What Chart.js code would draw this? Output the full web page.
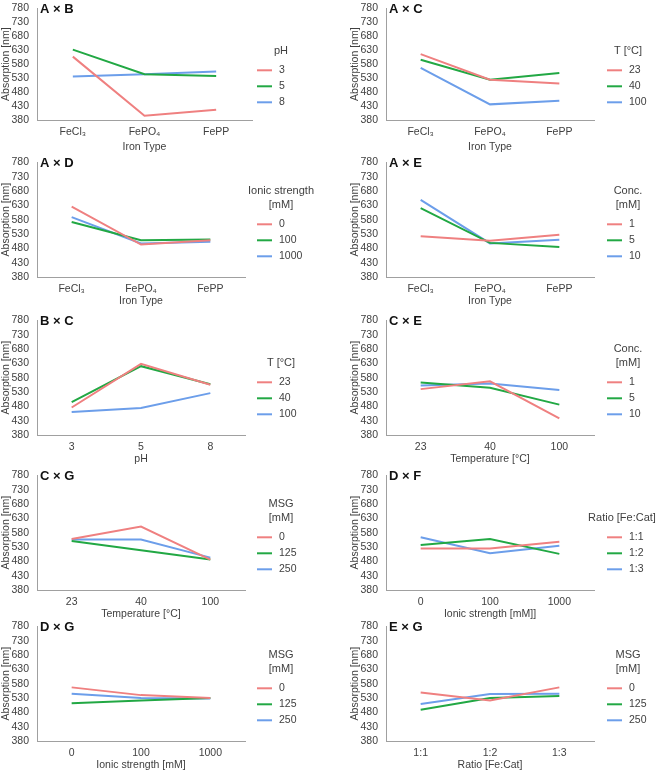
<!DOCTYPE html>
<html>
<head>
<meta charset="utf-8">
<script src="https://cdn.jsdelivr.net/npm/chart.js@4/dist/chart.umd.min.js"></script>
<style>
  html, body { margin: 0; padding: 0; background: #fff; }
  body { width: 658px; height: 771px; position: relative; overflow: hidden; }
  .cell { position: absolute; }
</style>
</head>
<body>
<div id="wrap"></div>
<script>
// ---------- categories ----------
const ironTypes = ['FeCl\u2083', 'FePO\u2084', 'FePP'];
const pHLevels = ['3', '5', '8'];
const tempLevels = ['23', '40', '100'];
const ionicLevels = ['0', '100', '1000'];
const ratioLevels = ['1:1', '1:2', '1:3'];
const concLevels = ['1', '5', '10'];
const msgLevels = ['0', '125', '250'];

// ---------- tick labels ----------
const yMin = 380, yMax = 780, yStep = 50;
const yTitle = 'Absorption [nm]';

// ---------- series values ----------
// A x B (Iron type x pH)
const AxB_pH3 = [607, 395, 417];
const AxB_pH5 = [632, 544, 538];
const AxB_pH8 = [536, 544, 554];
// A x C (Iron type x Temperature)
const AxC_T23 = [616, 524, 511];
const AxC_T40 = [596, 524, 548];
const AxC_T100 = [567, 436, 449];
// A x D (Iron type x Ionic strength)
const AxD_I0 = [625, 493, 508];
const AxD_I100 = [572, 508, 511];
const AxD_I1000 = [589, 497, 503];
// A x E (Iron type x Conc.)
const AxE_C1 = [522, 506, 527];
const AxE_C5 = [620, 499, 485];
const AxE_C10 = [649, 497, 510];
// B x C (pH x Temperature)
const BxC_T23 = [476, 628, 555];
const BxC_T40 = [495, 620, 557];
const BxC_T100 = [460, 474, 526];
// C x E (Temperature x Conc.)
const CxE_C1 = [540, 567, 438];
const CxE_C5 = [563, 545, 486];
const CxE_C10 = [553, 560, 537];
// C x G (Temperature x MSG)
const CxG_M0 = [558, 601, 486];
const CxG_M125 = [551, 519, 486];
const CxG_M250 = [556, 556, 493];
// D x F (Ionic strength x Ratio)
const DxF_R11 = [525, 525, 548];
const DxF_R12 = [537, 558, 506];
const DxF_R13 = [564, 508, 534];
// D x G (Ionic strength x MSG)
const DxG_M0 = [567, 540, 530];
const DxG_M125 = [512, 521, 530];
const DxG_M250 = [545, 530, 528];
// E x G (Ratio x MSG)
const ExG_M0 = [549, 521, 567];
const ExG_M125 = [489, 530, 537];
const ExG_M250 = [509, 544, 545];

const panels = [
  { name: 'A \u00d7 B', cats: ironTypes, xTitle: 'Iron Type', legTitle: ['pH'], legLabels: pHLevels, series: [AxB_pH3, AxB_pH5, AxB_pH8] },
  { name: 'A \u00d7 C', cats: ironTypes, xTitle: 'Iron Type', legTitle: ['T [\u00b0C]'], legLabels: tempLevels, series: [AxC_T23, AxC_T40, AxC_T100] },
  { name: 'A \u00d7 D', cats: ironTypes, xTitle: 'Iron Type', legTitle: ['Ionic strength', '[mM]'], legLabels: ionicLevels, series: [AxD_I0, AxD_I100, AxD_I1000] },
  { name: 'A \u00d7 E', cats: ironTypes, xTitle: 'Iron Type', legTitle: ['Conc.', '[mM]'], legLabels: concLevels, series: [AxE_C1, AxE_C5, AxE_C10] },
  { name: 'B \u00d7 C', cats: pHLevels, xTitle: 'pH', legTitle: ['T [\u00b0C]'], legLabels: tempLevels, series: [BxC_T23, BxC_T40, BxC_T100] },
  { name: 'C \u00d7 E', cats: tempLevels, xTitle: 'Temperature [\u00b0C]', legTitle: ['Conc.', '[mM]'], legLabels: concLevels, series: [CxE_C1, CxE_C5, CxE_C10] },
  { name: 'C \u00d7 G', cats: tempLevels, xTitle: 'Temperature [\u00b0C]', legTitle: ['MSG', '[mM]'], legLabels: msgLevels, series: [CxG_M0, CxG_M125, CxG_M250] },
  { name: 'D \u00d7 F', cats: ionicLevels, xTitle: 'Ionic strength [mM]]', legTitle: ['Ratio [Fe:Cat]'], legLabels: ratioLevels, series: [DxF_R11, DxF_R12, DxF_R13], legTitleDx: -6 },
  { name: 'D \u00d7 G', cats: ionicLevels, xTitle: 'Ionic strength [mM]', legTitle: ['MSG', '[mM]'], legLabels: msgLevels, series: [DxG_M0, DxG_M125, DxG_M250] },
  { name: 'E \u00d7 G', cats: ratioLevels, xTitle: 'Ratio [Fe:Cat]', legTitle: ['MSG', '[mM]'], legLabels: msgLevels, series: [ExG_M0, ExG_M125, ExG_M250] }
];

const COLORS = ['#ef8080', '#22a844', '#6c9eea'];
const FONT = "'Liberation Sans', Arial, sans-serif";
const TEXT = '#404040';
const AXIS = '#a0a0a0';

// layout (reference pixels)
const rowTops = [-6, 148, 306, 461, 612];
const rowHeights = [159, 159, 159, 159, 159];
const xAxisH = [33, 30, 30, 30, 30];

const panelDecor = {
  id: 'panelDecor',
  afterDraw(chart, args, opts) {
    const ctx = chart.ctx;
    const ca = chart.chartArea;
    ctx.save();
    // panel label
    ctx.font = 'bold 13px ' + FONT;
    ctx.fillStyle = '#111';
    ctx.textBaseline = 'middle';
    ctx.textAlign = 'left';
    ctx.fillText(opts.name, ca.left + 3, ca.top + 1);
    // legend
    const lx = opts.legX;
    const tx = opts.titleX;
    const top = ca.top;
    ctx.fillStyle = TEXT;
    ctx.font = '11px ' + FONT;
    ctx.textAlign = 'center';
    const titleLines = opts.legTitle;
    if (titleLines.length === 1) {
      ctx.fillText(titleLines[0], tx, top + 43);
    } else {
      ctx.fillText(titleLines[0], tx, top + 29);
      ctx.fillText(titleLines[1], tx, top + 43);
    }
    ctx.font = '10.5px ' + FONT;
    ctx.textAlign = 'left';
    chart.data.datasets.forEach((ds, i) => {
      const y = top + 62 + i * 16;
      ctx.strokeStyle = ds.borderColor;
      ctx.lineWidth = 2;
      ctx.beginPath();
      ctx.moveTo(lx, y);
      ctx.lineTo(lx + 15, y);
      ctx.stroke();
      ctx.fillStyle = TEXT;
      ctx.fillText(ds.label, lx + 22, y);
    });
    ctx.restore();
  }
};

const wrap = document.getElementById('wrap');
panels.forEach((p, idx) => {
  const row = Math.floor(idx / 2);
  const col = idx % 2;
  const div = document.createElement('div');
  div.className = 'cell';
  div.style.left = (col * 329) + 'px';
  div.style.top = rowTops[row] + 'px';
  const canvas = document.createElement('canvas');
  canvas.width = 329;
  canvas.height = rowHeights[row];
  canvas.style.width = '329px';
  canvas.style.height = rowHeights[row] + 'px';
  div.appendChild(canvas);
  wrap.appendChild(div);

  const padLeft = col === 0 ? 0 : 20;
  const padRight = col === 0 ? (row === 0 ? 77 : 84) : 64;
  const xh = xAxisH[row];
  const legX = col === 0 ? 257 : 278;
  const titleX = (col === 0 ? 281 : 299) + (p.legTitleDx || 0);

  new Chart(canvas, {
    type: 'line',
    data: {
      labels: p.cats,
      datasets: p.series.map((s, i) => ({
        label: p.legLabels[i],
        data: s,
        borderColor: COLORS[i],
        backgroundColor: COLORS[i],
        borderWidth: 2,
        pointRadius: 0,
        pointHoverRadius: 0,
        tension: 0,
        fill: false
      }))
    },
    options: {
      responsive: false,
      animation: false,
      devicePixelRatio: 1,
      layout: { padding: { left: padLeft, right: padRight, top: 0, bottom: 0 } },
      plugins: {
        legend: { display: false },
        tooltip: { enabled: false },
        panelDecor: { name: p.name, legTitle: p.legTitle, legX: legX, titleX: titleX }
      },
      scales: {
        x: {
          type: 'category',
          offset: true,
          grid: { display: false, drawTicks: false },
          border: { display: true, color: AXIS, width: 1 },
          ticks: { color: TEXT, font: { family: FONT, size: 10.5 }, padding: 6, maxRotation: 0, autoSkip: false },
          title: { display: true, text: p.xTitle, color: TEXT, font: { family: FONT, size: 10.5 }, padding: { top: 0, bottom: 0 } },
          afterFit: (s) => { s.height = xh; }
        },
        y: {
          min: yMin,
          max: yMax,
          grid: { display: false, drawTicks: false },
          border: { display: true, color: AXIS, width: 1 },
          ticks: { stepSize: yStep, color: TEXT, font: { family: FONT, size: 10.5 }, padding: 8, autoSkip: false },
          title: { display: true, text: yTitle, color: TEXT, font: { family: FONT, size: 10.5 }, padding: { top: 0, bottom: 0 } },
          afterFit: (s) => { s.width = 37; }
        }
      }
    },
    plugins: [panelDecor]
  });
});
</script>
</body>
</html>
